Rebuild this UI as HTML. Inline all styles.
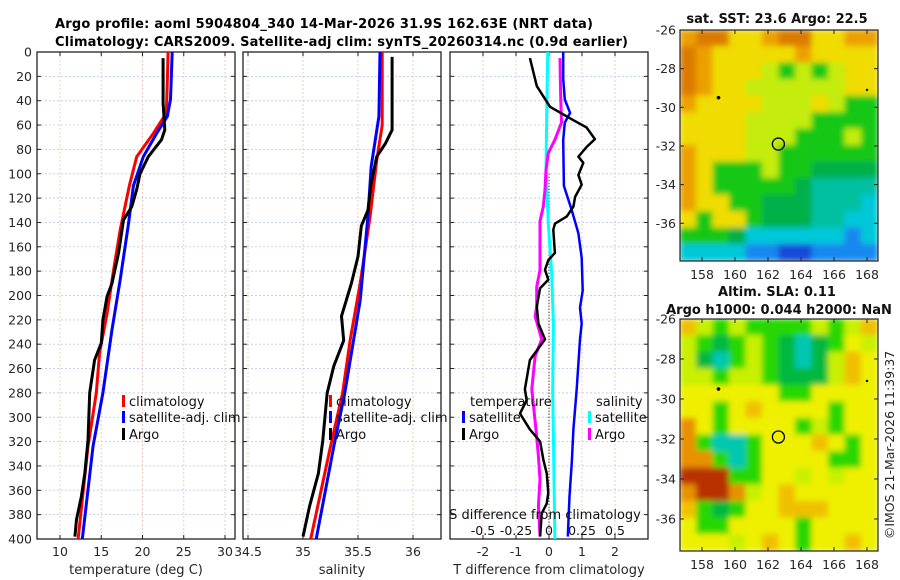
<!DOCTYPE html>
<html><head><meta charset="utf-8"><style>
html,body{margin:0;padding:0;background:#fff;}
svg{display:block;font-family:"DejaVu Sans","Liberation Sans",sans-serif;}
</style></head><body>
<svg id="fig" width="900" height="580" viewBox="0 0 900 580" xmlns="http://www.w3.org/2000/svg">
<text x="55" y="28" font-size="13" font-weight="bold" textLength="538">Argo profile: aoml 5904804_340 14-Mar-2026 31.9S 162.63E (NRT data)</text>
<text x="55" y="46" font-size="13" font-weight="bold" textLength="573">Climatology: CARS2009. Satellite-adj clim: synTS_20260314.nc (0.9d earlier)</text>
<g id="layer"></g>
</svg>
<script>
// ---------- data ----------
const tempDepthArgo=[5,42,64,72,86,100,113,127,138,165,190,201,220,239,253,280,319,346,365,384,398];
const tempArgo=[22.5,22.5,22.7,22.3,20.7,19.7,19.3,18.7,17.7,17.1,16.3,15.7,15.2,15.0,14.2,13.6,13.4,13.0,12.6,12.0,11.8];
const tempDepthClim=[0,50,67,86,110,146,179,215,247,280,324,400];
const tempClim=[23.1,22.9,21.3,19.3,18.4,17.3,16.5,15.7,14.8,14.4,13.4,12.2];
const tempDepthSat=[0,39,53,67,86,110,141,187,228,280,324,400];
const tempSat=[23.6,23.4,23.0,21.7,20.1,18.9,18.3,17.3,16.3,15.2,14.0,12.7];
const salDepthArgo=[4,64,75,86,108,130,143,168,190,217,237,258,280,319,346,373,398];
const salArgo=[35.81,35.81,35.75,35.67,35.62,35.59,35.53,35.50,35.44,35.35,35.37,35.28,35.22,35.18,35.14,35.06,35.0];
const salDepthClim=[0,60,89,135,190,236,280,324,400];
const salClim=[35.72,35.72,35.67,35.61,35.52,35.43,35.36,35.25,35.07];
const salDepthSat=[0,53,94,135,204,280,324,400];
const salSat=[35.70,35.69,35.62,35.59,35.52,35.38,35.28,35.12];
const tdDepthArgo=[5,28,45,56,62,71.5,78,86,91,101,109,119,127,135,141,146,165,171,179,187,194,209,223,236,253,277,286,297,310,320,335,346,362,371,379,398];
const tdArgo=[-0.58,-0.37,0.03,0.74,1.14,1.39,1.14,0.89,1.04,0.89,0.99,0.79,0.74,0.54,0.18,0.13,0.18,-0.02,-0.12,-0.02,-0.27,-0.37,-0.32,-0.12,-0.58,-0.73,-0.68,-0.88,-0.58,-0.27,-0.17,-0.07,-0.02,-0.07,-0.22,-0.27];
const tdDepthSat=[0,22,39,50,58,72,110,130,149,169,196,210,223,236,277,310,337,365,398];
const tdSat=[0.43,0.43,0.48,0.64,0.48,0.43,0.45,0.69,0.89,0.99,1.02,0.94,0.99,0.94,0.84,0.74,0.69,0.62,0.57];
const sdDepthArgo=[5,34,58,72,83,97,113,127,139,154,179,193,209,217,236,250,277,316,332,351,373,398];
const sdArgo=[0.083,0.088,0.095,0.045,-0.005,-0.023,-0.03,-0.043,-0.068,-0.068,-0.068,-0.093,-0.093,-0.105,-0.055,-0.105,-0.13,-0.093,-0.08,-0.068,-0.08,-0.068];
const sdDepthSat=[0,58,97,141,181,223,277,400];
const sdSat=[-0.01,-0.018,-0.023,-0.005,0.02,0.033,0.028,0.045];
const depthTicks=[0,20,40,60,80,100,120,140,160,180,200,220,240,260,280,300,320,340,360,380,400];
const tempTicks=[10,15,20,25,30];
const salTicks=[34.5,35,35.5,36];
const tdTicks=[-2,-1,0,1,2];
const sdTicks=[-0.5,-0.25,0,0.25,0.5];
const lonTicks=[158,160,162,164,166,168];
const latTicks=[-26,-28,-30,-32,-34,-36];
const argoLon=162.63, argoLat=-31.9;
const sstGrid=["oOOYYoOOYYoo","OoYYYYYoYYYY","OoYYYyGyGyYY","OoYYyyyyyyYY","oYYYYyyyYyGG","YYYYyyyyGGGG","YYYYyyyGGGyG","oYYYyyGGGGGG","oYGGGyGGgggg","oYGGGGGgTTTT","oYYGGgggTTTC","YGYYGgggTTCC","GGGgCCCCCCBC","CCCCBBDDBBBB"];
const slaGrid=["oyGyGGGGyGyo","yGgGyGgTgGYy","ygTGyGgTgyoY","yyGyyGgggyoY","YYYYYYGGYYYY","YYGYoYYYYGYY","OYGYYYYGyGYY","OGTTGYYYoYGY","OOGTGYYYYGGY","RRRGGYYyYyYY","ORROyYoYYYYY","oGgGYYoooYYY","YGGYYYYGYYYY","YYYyYoYGYYoY"];
// ---------- helpers ----------
const NS="http://www.w3.org/2000/svg";
const layer=document.getElementById('layer');
function mk(tag,attrs,parent){const e=document.createElementNS(NS,tag);for(const k in attrs)e.setAttribute(k,attrs[k]);(parent||layer).appendChild(e);return e;}
const Y0=52,Y1=539;
function yD(d){return Y0+(d/400)*(Y1-Y0);}
function lin(v0,v1,p0,p1){return v=>p0+(v-v0)/(v1-v0)*(p1-p0);}
function axisPanel(name,x0,x1,xs,ticks,labelFmt,yLabels,xlabel){
  const g=mk('g',{});
  
  
  ticks.forEach(t=>{const x=xs(t);mk('line',{x1:x,x2:x,y1:Y0,y2:Y1,stroke:'#f0cbb8','stroke-width':1,'stroke-dasharray':'2,2'},g);});
  depthTicks.forEach(d=>{const y=yD(d);mk('line',{x1:x0,x2:x1,y1:y,y2:y,stroke:'#c8d0f0','stroke-width':1,'stroke-dasharray':'2,2'},g);
    mk('line',{x1:x0,x2:x0+4,y1:y,y2:y,stroke:'#222'},g);mk('line',{x1:x1-4,x2:x1,y1:y,y2:y,stroke:'#222'},g);
    if(yLabels){const t=mk('text',{x:x0-5,y:y+4.5,'font-size':12.5,'text-anchor':'end',fill:'#262626'},g);t.textContent=d;}});
  ticks.forEach(t=>{const x=xs(t);mk('line',{x1:x,x2:x,y1:Y1,y2:Y1-4,stroke:'#222'},g);mk('line',{x1:x,x2:x,y1:Y0,y2:Y0+4,stroke:'#222'},g);
    const tx=mk('text',{x:x,y:556,'font-size':12.5,'text-anchor':'middle',fill:'#262626'},g);tx.textContent=labelFmt(t);});
  mk('rect',{x:x0,y:Y0,width:x1-x0,height:Y1-Y0,fill:'none',stroke:'#222','stroke-width':1.3},g);
  const xl=mk('text',{x:(x0+x1)/2,y:574,'font-size':13,'text-anchor':'middle',fill:'#262626'},g);xl.textContent=xlabel;
  return g;
}
function line(name,depths,vals,xs,color,w,parent){
  const pts=depths.map((d,i)=>xs(vals[i]).toFixed(1)+','+yD(d).toFixed(1)).join(' ');
  const p=mk('polyline',{points:pts,fill:'none',stroke:color,'stroke-width':w,'stroke-linejoin':'round'},parent);
  
  
  return p;
}
function legendItem(name,x,y,color,label,parent){
  const g=mk('g',{},parent);
  
  
  mk('rect',{x:x,y:y-11,width:3,height:12,fill:color},g);
  const t=mk('text',{x:x+7,y:y,'font-size':13,fill:'#111'},g);t.textContent=label;
}
// ---------- panel 1: temperature ----------
const xT=lin(10,30,60,225);
const p1=axisPanel('temperature-panel',37,235,xT,tempTicks,v=>v,true,'temperature (deg C)');
line('temp-climatology-line',tempDepthClim,tempClim,xT,'#ff0000',3,p1);
line('temp-satellite-line',tempDepthSat,tempSat,xT,'#0000ff',3,p1);
line('temp-argo-line',tempDepthArgo,tempArgo,xT,'#000000',3,p1);
legendItem('legend-climatology',122,406,'#ff0000','climatology',p1);
legendItem('legend-satellite-adj',122,422,'#0000ff','satellite-adj. clim',p1);
legendItem('legend-argo',122,439,'#000000','Argo',p1);
// ---------- panel 2: salinity ----------
const xS=lin(35,36,303,413);
const p2=axisPanel('salinity-panel',243,441,xS,salTicks,v=>v,false,'salinity');
line('sal-climatology-line',salDepthClim,salClim,xS,'#ff0000',3,p2);
line('sal-satellite-line',salDepthSat,salSat,xS,'#0000ff',3,p2);
line('sal-argo-line',salDepthArgo,salArgo,xS,'#000000',3,p2);
legendItem('legend-climatology-2',329,406,'#ff0000','climatology',p2);
legendItem('legend-satellite-adj-2',329,422,'#0000ff','satellite-adj. clim',p2);
legendItem('legend-argo-2',329,439,'#000000','Argo',p2);
// ---------- panel 3: differences ----------
const xTd=lin(0,1,549,582);
const xSd=lin(0,0.25,549,582);
const p3=axisPanel('difference-panel',450,648,xTd,tdTicks,v=>v,false,'T difference from climatology');
mk('line',{x1:xTd(0),x2:xTd(0),y1:yD(100),y2:Y1,stroke:'#333','stroke-width':1.2,'stroke-dasharray':'1,2'},p3);
line('sdiff-satellite-line',sdDepthSat,sdSat,xSd,'#00ffff',3,p3);
line('tdiff-satellite-line',tdDepthSat,tdSat,xTd,'#0000ff',2.5,p3);
line('sdiff-argo-line',sdDepthArgo,sdArgo,xSd,'#ff00ff',3,p3);
line('tdiff-argo-line',tdDepthArgo,tdArgo,xTd,'#000000',2.5,p3);
let tt=mk('text',{x:470,y:406,'font-size':13,fill:'#111'},p3);tt.textContent='temperature';
tt=mk('text',{x:596,y:406,'font-size':13,fill:'#111'},p3);tt.textContent='salinity';
legendItem('legend-t-satellite',462,422,'#0000ff','satellite',p3);
legendItem('legend-t-argo',462,439,'#000000','Argo',p3);
legendItem('legend-s-satellite',588,422,'#00ffff','satellite',p3);
legendItem('legend-s-argo',588,439,'#ff00ff','Argo',p3);
tt=mk('text',{x:545,y:519,'font-size':13,'text-anchor':'middle',fill:'#111'},p3);tt.textContent='S difference from climatology';

sdTicks.forEach(s=>{const t=mk('text',{x:xSd(s),y:535,'font-size':12.5,'text-anchor':'middle',fill:'#111'},p3);t.textContent=s;});
// ---------- maps ----------
const sstCol={O:'#dc7a00',o:'#eca000',Y:'#f0dc00',y:'#c4ec10',G:'#18c818',g:'#00b048',T:'#00c0a0',C:'#00c8d8',B:'#1888f0',D:'#1848d8'};
const slaCol={O:'#e89000',o:'#f0c000',Y:'#eef000',y:'#c8f000',G:'#28d800',g:'#00b840',T:'#00c8b0',R:'#b83000'};
function drawMap(name,grid,cols,mx0,mx1,my0,my1,latTop,latPerDeg,lblY){
  const g=mk('g',{});
  
  
  const nr=grid.length,nc=grid[0].length,cw=(mx1-mx0)/nc,ch=(my1-my0)/nr;
  const cg=mk('g',{filter:'url(#blur)'},g);
  grid.forEach((row,r)=>{for(let c=0;c<nc;c++){mk('rect',{x:mx0+c*cw-0.5,y:my0+r*ch-0.5,width:cw+1,height:ch+1,fill:cols[row[c]]},cg);}});
  const xl=lin(158,168,702,867);
  const yl=v=>my0+(latTop-v)*latPerDeg;
  lonTicks.forEach(l=>{const x=xl(l);mk('line',{x1:x,x2:x,y1:my1,y2:my1-4,stroke:'#222'},g);mk('line',{x1:x,x2:x,y1:my0,y2:my0+4,stroke:'#222'},g);
    const t=mk('text',{x:x,y:lblY,'font-size':12.5,'text-anchor':'middle',fill:'#262626'},g);t.textContent=l;});
  latTicks.forEach(l=>{const y=yl(l);mk('line',{x1:mx0,x2:mx0+4,y1:y,y2:y,stroke:'#222'},g);mk('line',{x1:mx1-4,x2:mx1,y1:y,y2:y,stroke:'#222'},g);
    const t=mk('text',{x:mx0-4,y:y+4.5,'font-size':12.5,'text-anchor':'end',fill:'#262626'},g);t.textContent=l;});
  mk('circle',{cx:xl(159),cy:yl(-29.5),r:1.8,fill:'#000'},g);
  mk('circle',{cx:xl(168),cy:yl(-29.1),r:1.2,fill:'#000'},g);
  const m=mk('circle',{cx:xl(argoLon),cy:yl(argoLat),r:6,fill:'none',stroke:'#000','stroke-width':1.3},g);
  
  
  mk('rect',{x:mx0,y:my0,width:mx1-mx0,height:my1-my0,fill:'none',stroke:'#222','stroke-width':1.2},g);
}
const defs=mk('defs',{});
const f=mk('filter',{id:'blur',x:0,y:0,width:1,height:1},defs);
mk('feGaussianBlur',{stdDeviation:3,edgeMode:'duplicate'},f);
drawMap('sst-map',sstGrid,sstCol,680,878,30,261,-26,19.33,279);
drawMap('sla-map',slaGrid,slaCol,680,878,319,551,-26,20,569);
tt=mk('text',{x:777,y:23,'font-size':13,'font-weight':'bold','text-anchor':'middle',fill:'#111'});tt.textContent='sat. SST: 23.6 Argo: 22.5';

tt=mk('text',{x:777,y:296,'font-size':13,'font-weight':'bold','text-anchor':'middle',fill:'#111'});tt.textContent='Altim. SLA: 0.11';

tt=mk('text',{x:779,y:314,'font-size':13,'font-weight':'bold','text-anchor':'middle',fill:'#111'});tt.textContent='Argo h1000: 0.044 h2000: NaN';

tt=mk('text',{x:0,y:0,'font-size':12.5,'text-anchor':'middle',fill:'#262626',transform:'translate(894,445) rotate(-90)'});tt.textContent='©IMOS 21-Mar-2026 11:39:37';

</script>
</body></html>
